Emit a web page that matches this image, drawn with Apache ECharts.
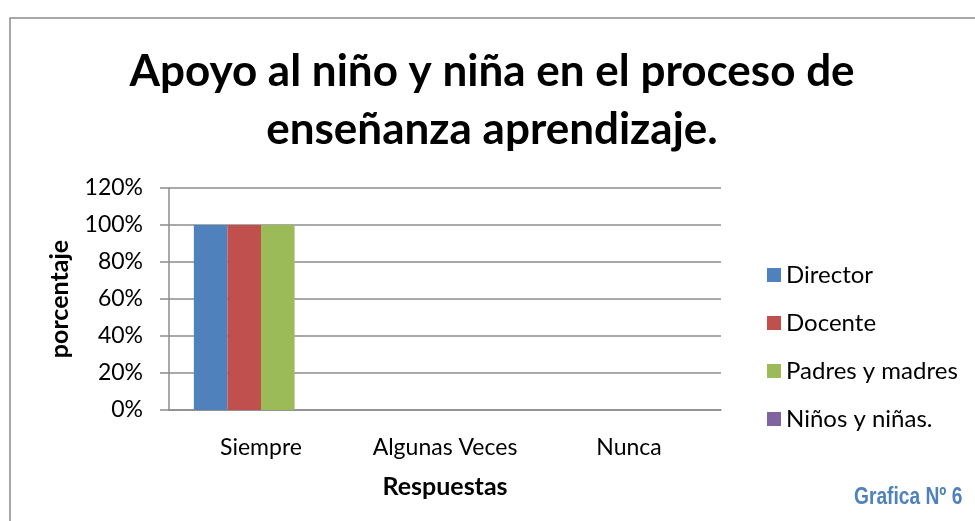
<!DOCTYPE html>
<html>
<head>
<meta charset="utf-8">
<style>
  html, body { margin: 0; padding: 0; background: #fff; }
  #chart { width: 975px; height: 521px; }
</style>
<script src="https://cdn.jsdelivr.net/npm/echarts@6/dist/echarts.min.js"></script>
</head>
<body>
<div id="chart"></div>
<script>
var categories = ['Siempre', 'Algunas Veces', 'Nunca']
var seriesNames = ['Director', 'Docente', 'Padres y madres', 'Niños y niñas.']
var director = [1, 0, 0]
var docente = [1, 0, 0]
var padres = [1, 0, 0]
var ninos = [0, 0, 0]
var colors = ['#4F81BD', '#C0504D', '#9BBB59', '#8064A2']

var font = 'Lato, "Noto Sans", sans-serif'
var chart = echarts.init(document.getElementById('chart'))

var values = [director, docente, padres, ninos]
var series = seriesNames.map(function (name, i) {
  return {
    name: name,
    type: 'bar',
    data: values[i],
    barGap: '0%',
    barCategoryGap: '27%',
    itemStyle: { color: colors[i] }
  }
})

chart.setOption({
  animation: false,
  color: colors,
  title: {
    text: 'Apoyo al niño y niña en el proceso de\nenseñanza aprendizaje.',
    left: 487,
    textAlign: 'center',
    top: 38,
    textStyle: {
      fontFamily: font,
      fontSize: 44,
      fontWeight: 'bold',
      color: '#000',
      lineHeight: 58
    }
  },
  grid: {
    left: 169,
    right: 254,
    top: 188,
    bottom: 111
  },
  legend: {
    orient: 'vertical',
    left: 762,
    top: 257,
    icon: 'rect',
    itemWidth: 14,
    itemHeight: 14,
    itemGap: 22,
    textStyle: {
      fontFamily: font,
      fontSize: 24,
      lineHeight: 26,
      color: '#000'
    },
    data: seriesNames
  },
  xAxis: {
    type: 'category',
    data: categories,
    name: 'Respuestas',
    nameLocation: 'middle',
    nameGap: 64,
    nameTextStyle: { fontFamily: font, fontSize: 25, fontWeight: 'bold', color: '#000' },
    axisLine: { lineStyle: { color: '#8c8c8c', width: 1.5 } },
    axisTick: { show: false },
    axisLabel: { interval: 0, fontFamily: font, fontSize: 23, color: '#000', margin: 26 }
  },
  yAxis: {
    type: 'value',
    min: 0,
    max: 1.2,
    interval: 0.2,
    name: 'porcentaje',
    nameLocation: 'middle',
    nameGap: 97,
    nameTextStyle: { fontFamily: font, fontSize: 25, fontWeight: 'bold', color: '#000' },
    axisLine: { show: true, lineStyle: { color: '#8c8c8c', width: 1.5 } },
    axisTick: { show: true, length: 9, lineStyle: { color: '#8c8c8c', width: 1.5 } },
    axisLabel: {
      fontFamily: font,
      fontSize: 23,
      color: '#000',
      margin: 26,
      formatter: function (v) { return Math.round(v * 100) + '%' }
    },
    splitLine: { lineStyle: { color: '#8c8c8c', width: 1.5 } }
  },
  graphic: [
    {
      type: 'rect',
      shape: { x: 10, y: 18, width: 990, height: 540 },
      style: { fill: 'none', stroke: '#8c8c8c', lineWidth: 1.5 },
      silent: true
    },
    {
      type: 'text',
      x: 854,
      y: 497,
      scaleX: 0.8,
      style: {
        text: 'Grafica Nº 6',
        x: 0,
        y: 0,
        verticalAlign: 'middle',
        font: 'bold 24px "Liberation Sans", sans-serif',
        fill: '#4F81BD'
      }
    }
  ],
  series: series
})
</script>
</body>
</html>
